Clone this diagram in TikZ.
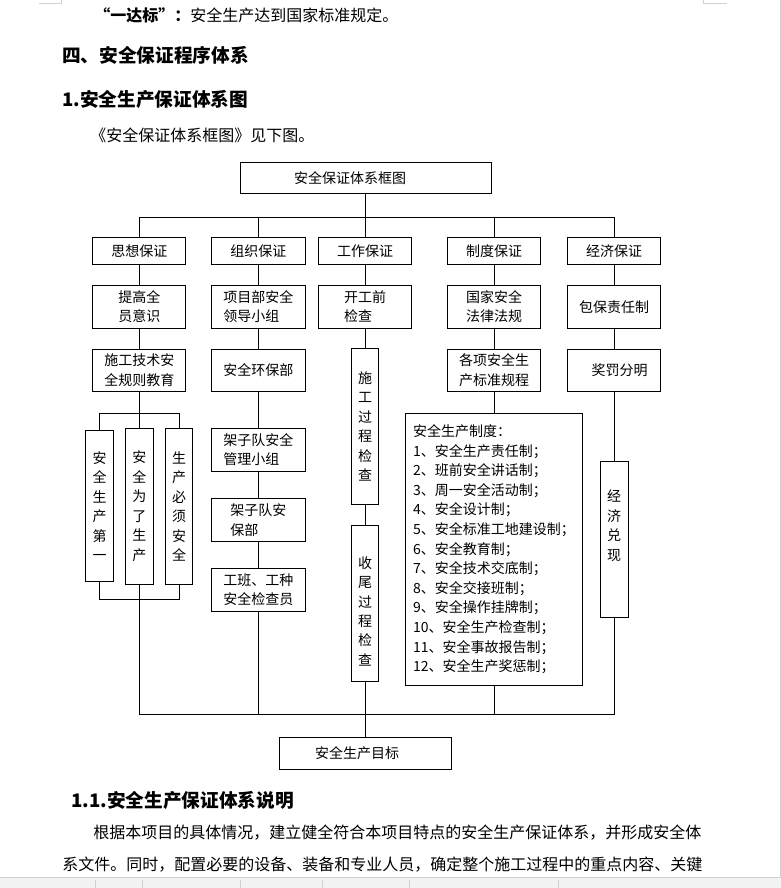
\documentclass[tikz,border=0pt]{standalone}
\usepackage{fontspec}
\setmainfont{Noto Sans CJK SC}
\tikzset{
  ln/.style={line width=0.75pt},
  box/.style={draw, line width=0.75pt, inner sep=0pt, font=\fontsize{10.5pt}{14.6pt}\selectfont},
  sz/.style 2 args={minimum width=#1*0.75pt, minimum height=#2*0.75pt},
  bodytxt/.style={inner sep=0pt, anchor=west, font=\fontsize{12pt}{14pt}\selectfont},
  headtxt/.style={inner sep=0pt, anchor=west, font=\fontsize{14pt}{16pt}\selectfont\bfseries},
  vtxt/.style={inner sep=0pt, align=center, font=\fontsize{10.5pt}{14.6pt}\selectfont},
  ui/.style={draw=black!18, line width=0.75pt}
}
\begin{document}
\begin{tikzpicture}[x=0.75pt,y=-0.75pt]
\useasboundingbox (0,0) rectangle (781,888);
% page decorations
\draw[ui] (39,4) -- (61,4) -- (61,0);
\draw[ui] (703,0) -- (703,4) -- (727,4);
\draw[ui] (780,0) -- (780,877);
\fill[black!5] (0,877) rectangle (781,888);
\draw[ui] (0,877) -- (781,877);
\foreach \sx in {95,142,240,322,409,558} \draw[ui] (\sx,880) -- (\sx,888);

% document text
\node[bodytxt] (t1) at (94,15) {\textbf{“一达标”：}安全生产达到国家标准规定。};
\node[headtxt] (t2) at (62,55) {四、安全保证程序体系};
\node[headtxt] (t3) at (62,99) {1.安全生产保证体系图};
\node[bodytxt] (t4) at (90,135) {《安全保证体系框图》见下图。};
\node[headtxt] (t5) at (71,800) {1.1.安全生产保证体系说明};
\node[bodytxt] (t6) at (93,833) {根据本项目的具体情况，建立健全符合本项目特点的安全生产保证体系，并形成安全体};
\node[bodytxt] (t7) at (62,865) {系文件。同时，配置必要的设备、装备和专业人员，确定整个施工过程中的重点内容、关键};

% diagram boxes
\node[box, sz={251}{30.6}] (title) at (366.2,178) {\hspace*{-24pt}安全保证体系框图};

\node[box, sz={93.3}{26.6}] (s1) at (139.3,251) {思想保证};
\node[box, sz={93.3}{26.6}] (s2) at (258.4,251) {组织保证};
\node[box, sz={93.3}{26.6}] (s3) at (365.2,251) {工作保证};
\node[box, sz={93.3}{26.6}] (s4) at (494,251) {制度保证};
\node[box, sz={93.3}{26.6}] (s5) at (614,251) {经济保证};

\node[box, sz={93.3}{43}, align=left] (a1) at (139.3,306.8) {提高全\\员意识};
\node[box, sz={93.3}{43}, align=left] (a2) at (258.4,306.8) {项目部安全\\领导小组};
\node[box, sz={93.3}{43}, align=left] (a3) at (365.2,306.8) {开工前\\检查};
\node[box, sz={93.3}{43}, align=center] (a4) at (494,306.8) {国家安全\\法律法规};
\node[box, sz={93.3}{43}] (a5) at (614,306.8) {包保责任制};

\node[box, sz={93.3}{41.7}, align=center] (b1) at (139.3,370.2) {施工技术安\\全规则教育};
\node[box, sz={93.3}{41.7}] (b2) at (258.4,370.2) {安全环保部};
\node[box, sz={27.3}{156}, align=center] (b3) at (365.2,426.3) {施\\工\\过\\程\\检\\查};
\node[box, sz={93.3}{41.7}, align=center] (b4) at (494,370.2) {各项安全生\\产标准规程};
\node[box, sz={93.3}{41.7}] (b5) at (614,370.2) {\hspace*{8.25pt}奖罚分明};

% column 1 lower
\coordinate (brT) at (139.3,413.3);
\coordinate (brB) at (139.3,599.3);
\node[box, sz={27.6}{151.4}, align=center] (v1) at (99.5,506) {安\\全\\生\\产\\第\\一};
\node[box, sz={27.6}{156}, align=center] (v2) at (139.3,506.3) {安\\全\\为\\了\\生\\产};
\node[box, sz={26.6}{156}, align=center] (v3) at (179,506.3) {生\\产\\必\\须\\安\\全};

% column 2 lower
\node[box, sz={93.3}{42.7}, align=left] (c2) at (258.4,449.7) {架子队安全\\管理小组};
\node[box, sz={93.3}{42.6}, align=left] (d2) at (258.4,520) {架子队安\\保部};
\node[box, sz={93.3}{43}, align=left] (e2) at (258.4,589.8) {工班、工种\\安全检查员};

% column 3 lower
\node[box, sz={27.3}{155.7}] (c3) at (365.2,603.2) {};
\node[vtxt] (c3t) at ([yshift=-6pt]c3.center) {收\\尾\\过\\程\\检\\查};

% column 4 big box
\node[box, sz={177}{272}, align=left, font=\fontsize{10.5pt}{14.7pt}\selectfont] (bb) at (494,549.3) {安全生产制度：\\1、安全生产责任制；\\2、班前安全讲话制；\\3、周一安全活动制；\\4、安全设计制；\\5、安全标准工地建设制；\\6、安全教育制；\\7、安全技术交底制；\\8、安全交接班制；\\9、安全操作挂牌制；\\10、安全生产检查制；\\11、安全事故报告制；\\12、安全生产奖惩制；};

% column 5 lower
\node[box, sz={28}{156}] (jj) at (614,539.3) {};
\node[vtxt] (jjt) at ([yshift=10.2pt]jj.center) {经\\济\\兑\\现};

% goal
\node[box, sz={172}{32}] (goal) at (365.5,753.3) {\hspace*{-12.75pt}安全生产目标};

% connectors: top bus
\coordinate (bus) at (365.2,217);
\draw[ln] (s3.north |- title.south) -- (s3.north |- bus);
\draw[ln] (s1.north) -- (s1.north |- bus) -- (s5.north |- bus) -- (s5.north);
\foreach \n in {s2,s3,s4} \draw[ln] (\n.north) -- (\n.north |- bus);

% column chains
\draw[ln] (s1) -- (a1) (a1) -- (b1);
\draw[ln] (s2) -- (a2) (a2) -- (b2) (b2) -- (c2) (c2) -- (d2) (d2) -- (e2);
\draw[ln] (s3) -- (a3) (a3) -- (b3) (b3) -- (c3);
\draw[ln] (s4) -- (a4) (a4) -- (b4) (b4) -- (bb);
\draw[ln] (s5) -- (a5) (a5) -- (b5) (b5) -- (jj);

% column 1 brackets
\draw[ln] (b1.south) -- (brT);
\draw[ln] (v1.north) -- (v1.north |- brT) -- (v3.north |- brT) -- (v3.north);
\draw[ln] (v2.north) -- (v2.north |- brT);
\draw[ln] (v1.south) -- (v1.south |- brB) -- (v3.south |- brB) -- (v3.south);
\draw[ln] (v2.south) -- (v2.south |- brB);

% bottom bus
\coordinate (bbus) at (365.2,714);
\draw[ln] (brB) -- (brB |- bbus) -- (jj.south |- bbus) -- (jj.south);
\draw[ln] (e2.south) -- (e2.south |- bbus);
\draw[ln] (bb.south) -- (bb.south |- bbus);
\draw[ln] (c3.south) -- (c3.south |- goal.north);
\end{tikzpicture}
\end{document}
